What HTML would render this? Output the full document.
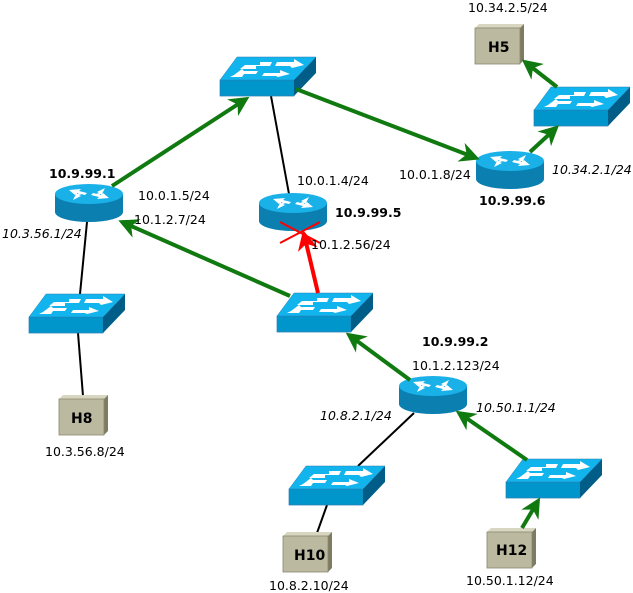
<!DOCTYPE html>
<html><head><meta charset="utf-8"><style>
html,body{margin:0;padding:0;background:#fff;}
svg{display:block;font-family:"DejaVu Sans","Liberation Sans",sans-serif;}
</style></head><body>
<svg width="633" height="593" viewBox="0 0 633 593" xmlns="http://www.w3.org/2000/svg">
<defs>
<g id="sw">
  <polygon points="0,24 74,24 74,40 0,40" fill="#0096cc" stroke="#2a7fb0" stroke-width="0.7"/>
  <polygon points="74,24 96,1 96,17 74,40" fill="#005d88"/>
  <polygon points="17,1 96,1 74,24 0,24" fill="#12b4ee" stroke="#2a7fb0" stroke-width="0.5"/>
  <g fill="#fff">
    <polygon points="25,9 40,9 40,6 52,6 50,10 36,10 36,13 20,13"/>
    <polygon points="57,6 74,6 74,3 84,9 72,12 70,10 55,10"/>
    <polygon points="14,19 22,13 24,15 38,15 36,18 24,18 22,21 10,21"/>
    <polygon points="44,17 60,17 60,14 70,18 58,21 56,20 42,20"/>
  </g>
</g>
<g id="rt">
  <path d="M0,10 L0,28 A34,10 0 0 0 68,28 L68,10 Z" fill="#0a7fb0"/>
  <ellipse cx="34" cy="10" rx="34" ry="10" fill="#1ab0e8"/>
  <g fill="#fff">
    <polygon points="14,6 26,5 24,7 32,9 30,11 22,9 20,11"/>
    <polygon points="54,14 42,15 44,13 36,11 38,9 46,11 48,9"/>
    <polygon points="50,4 42,8 44,9 38,11 40,12 46,10 46,12"/>
    <polygon points="18,16 26,12 24,11 30,9 28,8 22,10 22,8"/>
  </g>
</g>
<g id="host">
  <polygon points="0,4 4,0 49,0 45,4" fill="#d8d6c0"/>
  <polygon points="45,4 49,0 49,36 45,40" fill="#7d7c62"/>
  <rect x="0" y="4" width="45" height="36" fill="#bbb9a0" stroke="#8a8870" stroke-width="0.8"/>
</g>
<marker id="ag" viewBox="0 0 10 10" refX="8" refY="5" markerWidth="5" markerHeight="5" orient="auto" markerUnits="strokeWidth"><path d="M0,0 L10,5 L0,10 L3,5 Z" fill="#107a10"/></marker>
<marker id="ar" viewBox="0 0 10 10" refX="8" refY="5" markerWidth="5" markerHeight="5" orient="auto" markerUnits="strokeWidth"><path d="M0,0 L10,5 L0,10 L3,5 Z" fill="#ff0000"/></marker>
</defs>

<g stroke="#000" stroke-width="2">
<line x1="271" y1="96" x2="289" y2="194"/>
<line x1="87" y1="222" x2="80" y2="294"/>
<line x1="78" y1="333" x2="83" y2="396"/>
<line x1="414" y1="413" x2="358" y2="466"/>
<line x1="327" y1="505" x2="317" y2="533"/>
</g>

<use href="#sw" x="220" y="56"/>
<use href="#sw" x="534" y="86"/>
<use href="#sw" x="29" y="293"/>
<use href="#sw" x="277" y="292"/>
<use href="#sw" x="289" y="465"/>
<use href="#sw" x="506" y="458"/>
<use href="#rt" x="55" y="184"/>
<use href="#rt" x="259" y="193"/>
<use href="#rt" x="476" y="151"/>
<use href="#rt" x="399" y="376"/>
<use href="#host" x="475" y="24"/>
<use href="#host" x="59" y="395"/>
<use href="#host" x="283" y="532"/>
<use href="#host" x="487" y="528"/>

<g stroke="#107a10" stroke-width="4" fill="none" marker-end="url(#ag)">
<line x1="112" y1="186" x2="246" y2="99"/>
<line x1="296" y1="89" x2="476" y2="158"/>
<line x1="530" y1="152" x2="556" y2="128"/>
<line x1="557" y1="87" x2="525" y2="62"/>
<line x1="290" y1="296" x2="122" y2="222"/>
<line x1="410" y1="380" x2="349" y2="335"/>
<line x1="527" y1="460" x2="459" y2="413"/>
<line x1="522" y1="528" x2="538" y2="501"/>
</g>
<line x1="318" y1="293" x2="304" y2="234" stroke="#ff0000" stroke-width="4" marker-end="url(#ar)"/>
<g stroke="#ff0000" stroke-width="2">
<line x1="280" y1="222" x2="320" y2="243"/>
<line x1="280" y1="243" x2="320" y2="222"/>
</g>

<g font-size="12.5" fill="#000">
<text x="468" y="12">10.34.2.5/24</text>
<g font-size="14" font-weight="bold">
<text x="488" y="52">H5</text>
<text x="71" y="423">H8</text>
<text x="294" y="560">H10</text>
<text x="496" y="555">H12</text>
</g>
<text x="138" y="200">10.0.1.5/24</text>
<text x="134" y="224">10.1.2.7/24</text>
<text x="297" y="185">10.0.1.4/24</text>
<text x="311" y="249">10.1.2.56/24</text>
<text x="399" y="179">10.0.1.8/24</text>
<text x="412" y="370">10.1.2.123/24</text>
<text x="45" y="456">10.3.56.8/24</text>
<text x="269" y="590">10.8.2.10/24</text>
<text x="466" y="585">10.50.1.12/24</text>
<g font-style="italic">
<text x="2" y="238">10.3.56.1/24</text>
<text x="552" y="174">10.34.2.1/24</text>
<text x="320" y="420">10.8.2.1/24</text>
<text x="476" y="412">10.50.1.1/24</text>
</g>
<g font-weight="bold">
<text x="49" y="178">10.9.99.1</text>
<text x="335" y="217">10.9.99.5</text>
<text x="479" y="205">10.9.99.6</text>
<text x="422" y="346">10.9.99.2</text>
</g>
</g>
</svg>
</body></html>
